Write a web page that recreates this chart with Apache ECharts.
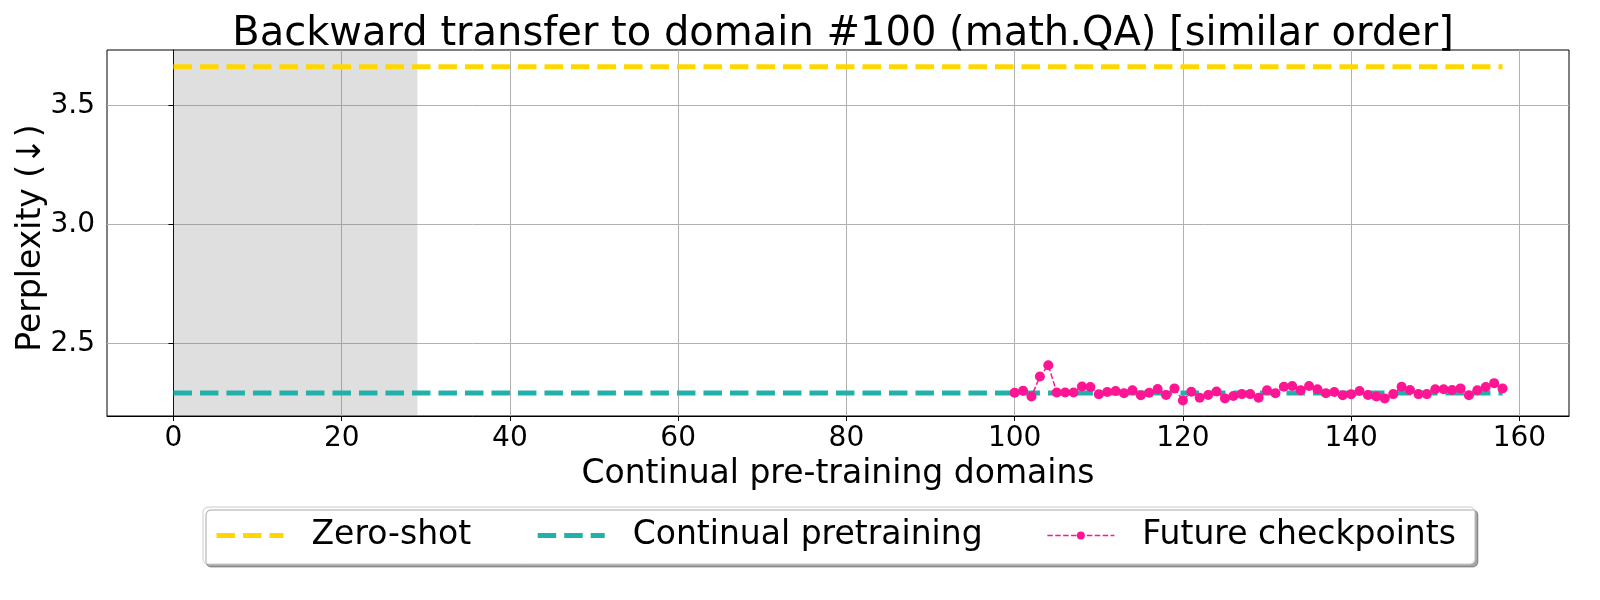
<!DOCTYPE html>
<html>
<head>
<meta charset="utf-8">
<script src="https://cdn.jsdelivr.net/npm/echarts@6/dist/echarts.min.js"></script>
<style>
  html, body { margin: 0; padding: 0; background: #fff; }
  #chart { width: 1600px; height: 600px; }
</style>
</head>
<body>
<div id="chart"></div>
<script>
// data
const xTicks = [0, 20, 40, 60, 80, 100, 120, 140, 160];
const yTicks = [2.5, 3.0, 3.5];
const lineSpan = [0, 158];          // first / last domain of the flat lines
const zeroShot = 3.662;
const continual = 2.292;
const shadedDomains = [0, 29];      // grey band
const futureDomains = [
  100, 101, 102, 103, 104, 105, 106, 107, 108, 109,
  110, 111, 112, 113, 114, 115, 116, 117, 118, 119,
  120, 121, 122, 123, 124, 125, 126, 127, 128, 129,
  130, 131, 132, 133, 134, 135, 136, 137, 138, 139,
  140, 141, 142, 143, 144, 145, 146, 147, 148, 149,
  150, 151, 152, 153, 154, 155, 156, 157, 158
];
const futureVals = [
  2.293, 2.301, 2.277, 2.361, 2.408, 2.294, 2.294, 2.294, 2.319, 2.317,
  2.286, 2.296, 2.300, 2.291, 2.303, 2.282, 2.293, 2.308, 2.283, 2.311,
  2.260, 2.297, 2.272, 2.283, 2.298, 2.269, 2.279, 2.287, 2.287, 2.272,
  2.303, 2.291, 2.318, 2.321, 2.303, 2.321, 2.307, 2.291, 2.296, 2.282,
  2.286, 2.300, 2.283, 2.277, 2.269, 2.287, 2.318, 2.304, 2.287, 2.287,
  2.307, 2.307, 2.304, 2.311, 2.282, 2.303, 2.317, 2.333, 2.311
];

const font = 'DejaVu Sans';
const gold = '#FFD700';
const teal = '#20B2AA';
const pink = '#FF1493';
const chart = echarts.init(document.getElementById('chart'));

const option = {
  animation: false,
  title: {
    text: 'Backward transfer to domain #100 (math.QA) [similar order]',
    left: 838,
    textAlign: 'center',
    top: 10,
    textStyle: { fontFamily: font, fontSize: 40, fontWeight: 'normal', color: '#000' }
  },
  grid: {
    left: 107, right: 31, top: 50, bottom: 184,
    show: true, borderColor: '#000', borderWidth: 1, backgroundColor: 'transparent'
  },
  legend: {
    left: 203, top: 507,
    padding: [12, 19, 12, 11],
    itemGap: 64,
    itemWidth: 67,
    itemHeight: 10,
    backgroundColor: '#fff',
    borderColor: '#cccccc',
    borderWidth: 1,
    borderRadius: 5,
    shadowColor: 'rgba(0,0,0,0.35)',
    shadowOffsetX: 3,
    shadowOffsetY: 3,
    shadowBlur: 0,
    textStyle: { fontFamily: font, fontSize: 33, color: '#000', padding: [0, 0, 0, 23] },
    data: [
      { name: 'Zero-shot', itemStyle: { opacity: 0 }, lineStyle: { width: 5, color: gold, type: [18.5, 8] } },
      { name: 'Continual pretraining', itemStyle: { opacity: 0 }, lineStyle: { width: 5, color: teal, type: [18.5, 8] } },
      { name: 'Future checkpoints', lineStyle: { width: 1.5, color: pink, type: [5.5, 2.4] } }
    ]
  },
  xAxis: {
    type: 'value',
    min: -7.9, max: 165.9,
    name: 'Continual pre-training domains',
    nameLocation: 'middle',
    nameGap: 42,
    nameTextStyle: { fontFamily: font, fontSize: 33, color: '#000' },
    axisLine: { show: true, lineStyle: { color: '#000', width: 1 } },
    axisTick: { show: true, length: 5, lineStyle: { color: '#000' }, customValues: xTicks },
    axisLabel: { fontFamily: font, fontSize: 28, color: '#000', margin: 9, customValues: xTicks },
    splitLine: { show: true, lineStyle: { color: '#b0b0b0', width: 1 } }
  },
  yAxis: {
    type: 'value',
    min: 2.195, max: 3.732,
    axisLine: { show: true, lineStyle: { color: '#000', width: 1 } },
    axisTick: { show: true, length: 5, lineStyle: { color: '#000' }, customValues: yTicks },
    axisLabel: {
      fontFamily: font, fontSize: 28, color: '#000', margin: 12, customValues: yTicks,
      formatter: v => v.toFixed(1)
    },
    splitLine: { show: true, lineStyle: { color: '#b0b0b0', width: 1 } }
  },
  graphic: [{
    type: 'text',
    x: 31, y: 238,
    rotation: Math.PI / 2,
    style: {
      text: 'Perplexity (↓)',
      font: '33px "DejaVu Sans"',
      fill: '#000',
      textAlign: 'center',
      textVerticalAlign: 'middle'
    }
  }],
  series: [
    {
      name: 'Zero-shot',
      type: 'line',
      data: lineSpan.map(x => [x, zeroShot]),
      showSymbol: false,
      symbol: 'none',
      color: gold,
      lineStyle: { color: gold, width: 5, type: [18.5, 8] },
      markArea: {
        silent: true,
        itemStyle: { color: 'rgba(128,128,128,0.25)' },
        data: [[{ xAxis: shadedDomains[0] }, { xAxis: shadedDomains[1] }]]
      },
      z: 2
    },
    {
      name: 'Continual pretraining',
      type: 'line',
      data: lineSpan.map(x => [x, continual]),
      showSymbol: false,
      symbol: 'none',
      color: teal,
      lineStyle: { color: teal, width: 5, type: [18.5, 8] },
      z: 3
    },
    {
      name: 'Future checkpoints',
      type: 'line',
      data: futureDomains.map((x, i) => [x, futureVals[i]]),
      symbol: 'circle',
      symbolSize: 10,
      color: pink,
      itemStyle: { color: pink },
      lineStyle: { color: pink, width: 1.5, type: [5.5, 2.4] },
      z: 4
    }
  ]
};

chart.setOption(option);
window.addEventListener('resize', () => chart.resize());
</script>
</body>
</html>
